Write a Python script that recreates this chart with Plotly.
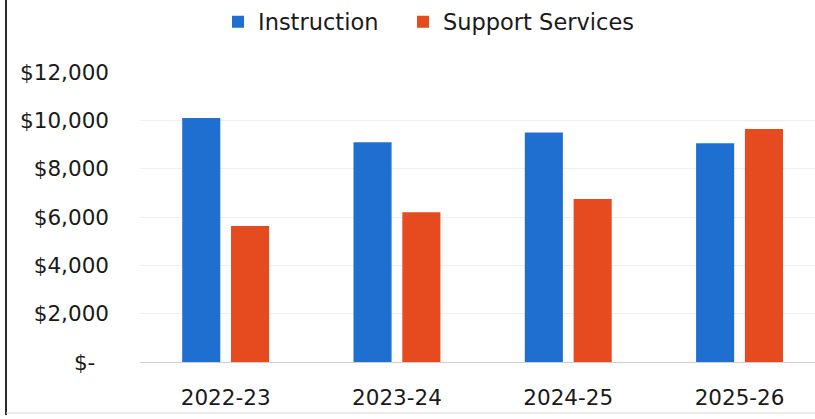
import plotly.graph_objects as go

# Per-pupil spending by fiscal year
years = ["2022-23", "2023-24", "2024-25", "2025-26"]
instruction = [10100, 9090, 9500, 9050]
support_services = [5630, 6200, 6745, 9640]

tick_vals = [0, 2000, 4000, 6000, 8000, 10000, 12000]
tick_text = ["$-\u2007", "$2,000", "$4,000", "$6,000", "$8,000", "$10,000", "$12,000"]

W, H = 815, 419
M_L, M_R, M_T, M_B = 140, 0, 72, 57
FONT = "DejaVu Sans"
TEXT = "#1a1a1a"

fig = go.Figure()
fig.add_trace(go.Bar(x=years, y=instruction, name="Instruction", legend="legend",
                     marker=dict(color="#1f6fd0", line=dict(width=0))))
fig.add_trace(go.Bar(x=years, y=support_services, name="Support Services",
                     legend="legend2",
                     marker=dict(color="#e64a1f", line=dict(width=0))))

# frame lines at the left and bottom edges of the page
fig.add_shape(type="line", xref="paper", yref="paper",
              xsizemode="pixel", xanchor=0, x0=-(M_L - 6), x1=-(M_L - 6),
              ysizemode="pixel", yanchor=0, y0=-(M_B - 4), y1=H - M_B + 2,
              line=dict(color="#2a2a2a", width=2))
fig.add_shape(type="line", xref="paper", yref="paper",
              xsizemode="pixel", xanchor=0, x0=-(M_L - 6), x1=W - M_L,
              ysizemode="pixel", yanchor=0, y0=-(M_B - 6), y1=-(M_B - 6),
              line=dict(color="#d8d8d8", width=1))

legend_style = dict(orientation="h", xanchor="left", xref="container",
                    y=1 - 22 / H, yanchor="middle", yref="container",
                    font=dict(family=FONT, size=22.5, color=TEXT),
                    itemclick=False, bgcolor="rgba(0,0,0,0)")

n_span = (W - M_L - M_R) / 171.3
fig.update_layout(
    width=W, height=H,
    margin=dict(l=M_L, r=M_R, t=M_T, b=M_B, pad=0),
    paper_bgcolor="white", plot_bgcolor="white",
    barmode="group", bargap=0.43, bargroupgap=0.22,
    font=dict(family=FONT, size=21.5, color=TEXT),
    showlegend=True,
    legend=dict(x=218 / W, **legend_style),
    legend2=dict(x=403 / W, **legend_style),
    xaxis=dict(range=[-0.5, -0.5 + n_span], showgrid=False, showline=False,
               zeroline=False, ticks="", ticklabelstandoff=20,
               tickfont=dict(family=FONT, size=21.5, color=TEXT)),
    yaxis=dict(range=[0, 12000], tickvals=tick_vals, ticktext=tick_text,
               showgrid=True, gridcolor="#eeeeee", gridwidth=1,
               zeroline=True, zerolinecolor="#cfcfcf", zerolinewidth=1,
               showline=False, ticks="", ticklabelstandoff=30,
               tickfont=dict(family=FONT, size=21.5, color=TEXT)),
)

fig.write_html("out.html")
